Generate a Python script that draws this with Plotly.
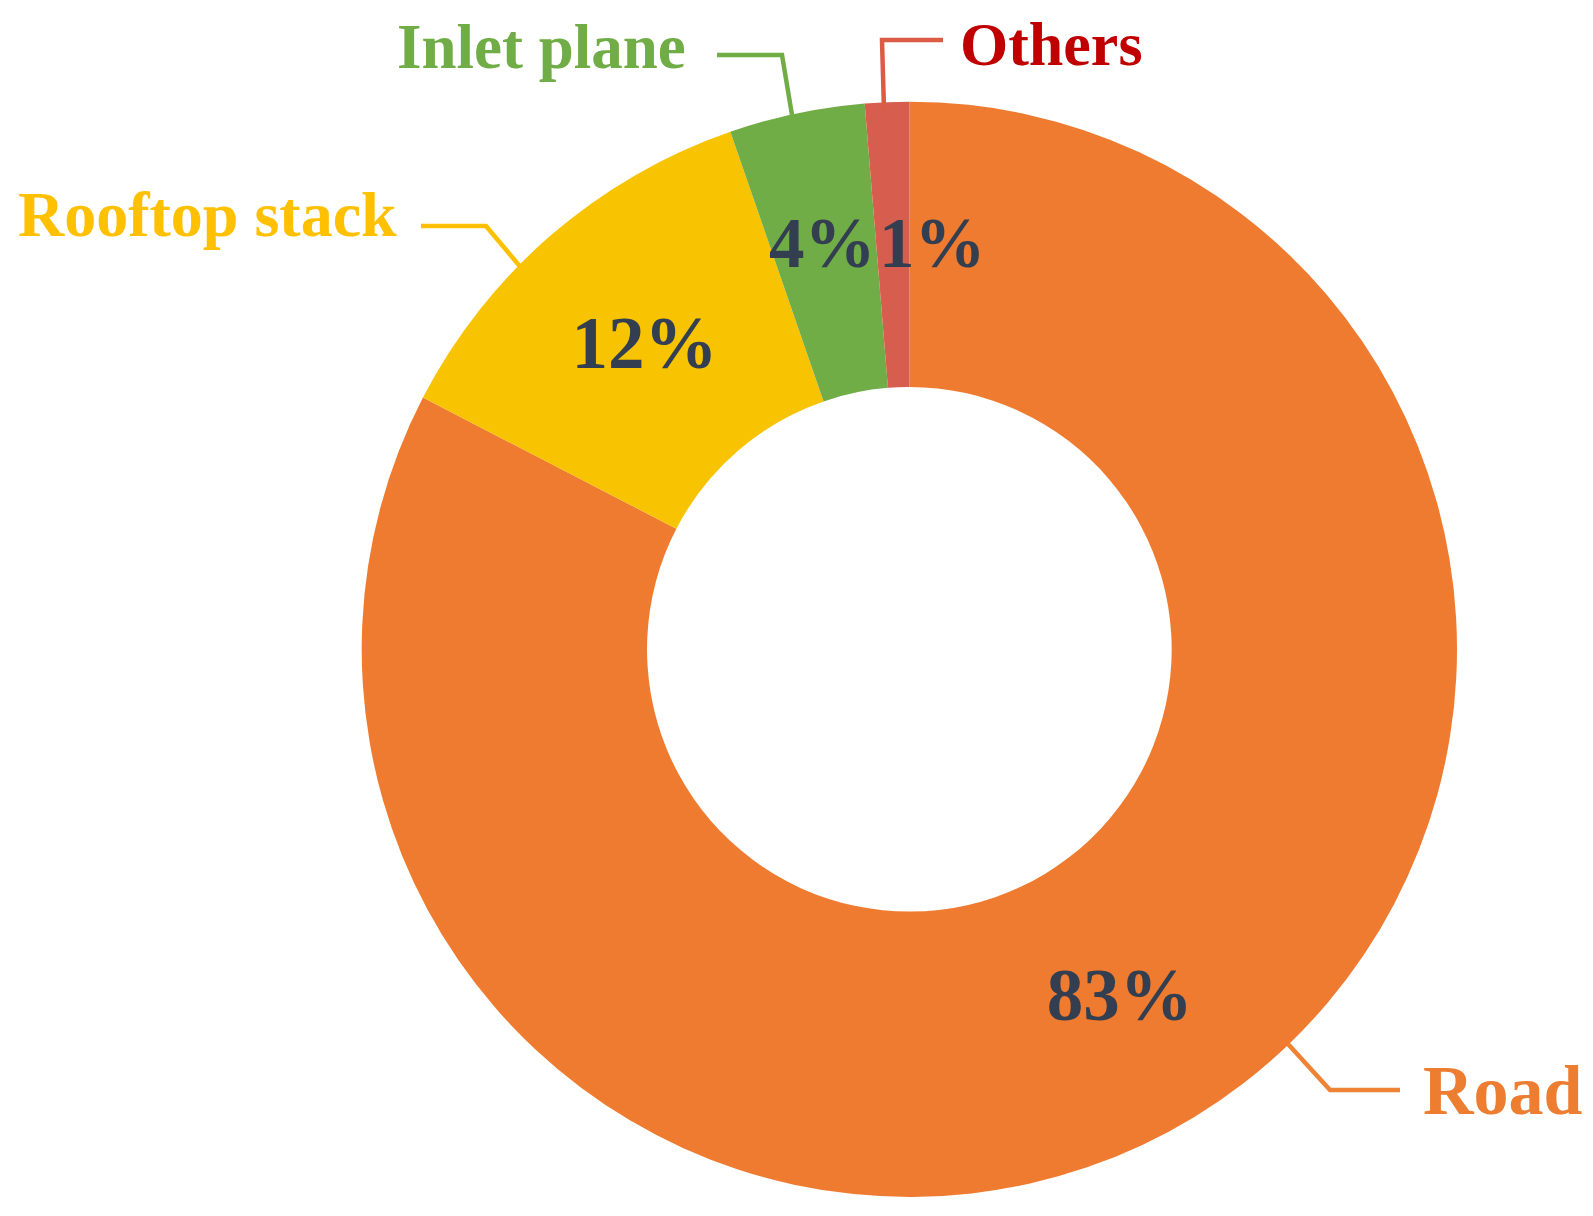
import plotly.graph_objects as go

# ---- data ----
categories = ["Road", "Rooftop stack", "Inlet plane", "Others"]
shares = [82.6, 12.1, 4.0, 1.3]
slice_colors = ["#EF7B30", "#F8C300", "#70AD47", "#D75E4E"]
label_colors = ["#ED7D31", "#FFC000", "#70AD47", "#C00000"]
leader_colors = ["#EE8336", "#FFC000", "#70AD47", "#DB5B45"]

# page is rendered with the browser's default 8px body margin
OFF = 8
PAGE_W, PAGE_H = 1593, 1216
W, H = PAGE_W - OFF, PAGE_H - OFF
FONT = "Liberation Serif, Times New Roman, serif"
PCT_COLOR = "#333F50"


def px(x):
    return (x - OFF) / W


def py(y):
    return 1 - (y - OFF) / H


total = sum(shares)
pct_text = [f"{round(v / total * 100)}%" for v in shares]

# big slices keep their in-slice label; the two thin slices get labels placed beside
in_slice = [True, True, False, False]

fig = go.Figure()
fig.add_trace(go.Pie(
    labels=categories,
    values=shares,
    sort=False,
    direction="clockwise",
    rotation=0,
    hole=0.479,
    marker=dict(colors=slice_colors, line=dict(width=0)),
    texttemplate=["%{percent:.0%}" if s else "" for s in in_slice],
    textposition="inside",
    insidetextorientation="horizontal",
    textfont=dict(family=FONT, size=73, color=PCT_COLOR, weight="bold"),
    domain=dict(x=[px(361.7), px(1457)], y=[py(1198), py(100.6)]),
    showlegend=False,
    hoverinfo="label+percent",
))

annotations = []
# percentage labels for the thin slices (Inlet plane, Others)
small_pct_pos = {2: (822, 243), 3: (932, 243)}
for i, (x, y) in small_pct_pos.items():
    annotations.append(dict(
        text=pct_text[i], x=px(x), y=py(y), xref="paper", yref="paper",
        xanchor="center", yanchor="middle", showarrow=False,
        font=dict(family=FONT, size=71, color=PCT_COLOR, weight="bold"),
    ))

# outside category labels
label_specs = [
    # text, x, y, xanchor, size
    ("Road", 1421, 1090, "left", 70),
    ("Rooftop stack", 399, 214, "right", 64),
    ("Inlet plane", 688, 47, "right", 63),
    ("Others", 958, 44, "left", 62),
]
for (txt, x, y, xa, sz), col in zip(label_specs, label_colors):
    annotations.append(dict(
        text=txt, x=px(x), y=py(y), xref="paper", yref="paper",
        xanchor=xa, yanchor="middle", showarrow=False,
        font=dict(family=FONT, size=sz, color=col, weight="bold"),
    ))

# leader lines
leader_pts = [
    [(1288, 1044), (1330, 1090), (1400, 1090)],
    [(421, 226), (486, 226), (523, 270)],
    [(717, 55), (782, 55), (792, 115)],
    [(943, 40), (882, 40), (884, 110)],
]
shapes = []
for pts, col in zip(leader_pts, leader_colors):
    path = "M " + " L ".join(f"{px(x)},{py(y)}" for x, y in pts)
    shapes.append(dict(type="path", path=path, xref="paper", yref="paper",
                       line=dict(color=col, width=4.5)))

fig.update_layout(
    width=W, height=H,
    margin=dict(l=0, r=0, t=0, b=0),
    paper_bgcolor="white",
    plot_bgcolor="white",
    annotations=annotations,
    shapes=shapes,
    uniformtext=dict(minsize=60, mode="show"),
)

fig.write_html("out.html")
